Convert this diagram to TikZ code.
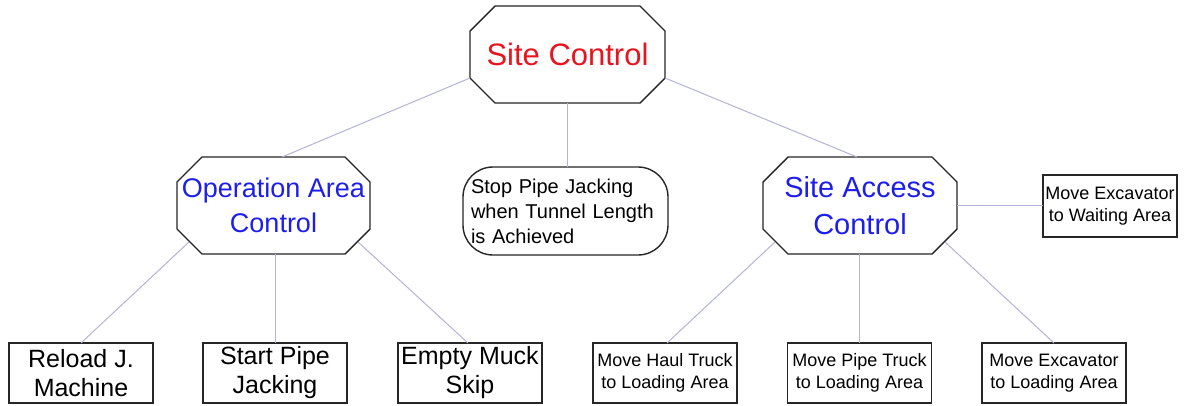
\documentclass[tikz,border=0pt]{standalone}
\usepackage{fontspec}
\setmainfont{Liberation Sans}
\usetikzlibrary{calc}
\definecolor{conncol}{RGB}{180,180,212}
\definecolor{sitered}{RGB}{232,20,30}
\definecolor{ctrlblue}{RGB}{30,30,235}
\newcommand\octpath[2]{\draw[octline] ([xshift=#2]#1.north west) -- ([xshift=-#2]#1.north east) -- ([yshift=-#2]#1.north east) -- ([yshift=#2]#1.south east) -- ([xshift=-#2]#1.south east) -- ([xshift=#2]#1.south west) -- ([yshift=#2]#1.south west) -- ([yshift=-#2]#1.north west) -- cycle;}
\tikzset{
  octline/.style={draw=black!85, line width=1.4pt, line join=miter},
  octnode/.style={shape=rectangle, inner sep=0pt, outer sep=0pt, align=center, minimum width=#1, minimum height=97pt},
  conn/.style={draw=conncol, line width=1pt},
  bigbox/.style={draw=black!85, line width=1.4pt, inner sep=1pt, outer sep=0pt, minimum width=144pt, minimum height=60pt, align=center,
    font=\fontsize{25}{29}\selectfont},
  smallbox/.style={draw=black!85, line width=1.4pt, inner sep=1pt, outer sep=0pt, minimum width=144pt, minimum height=60pt, align=center,
    font=\fontsize{18}{22}\selectfont},
  roundbox/.style={draw=black!85, line width=1.4pt, rounded corners=30pt, inner sep=8pt, outer sep=0pt, text width=189pt,
    minimum height=88pt, align=left, font=\fontsize{20}{25}\selectfont}
}
\begin{document}
\begin{tikzpicture}[x=1pt,y=-1pt]
\useasboundingbox[fill=white] (0,0) rectangle (1188,405);
% top
\node[octnode=195pt, text=sitered, font=\fontsize{31}{36}\selectfont] (sc) at (567.5,54.5) {Site Control};
\octpath{sc}{25pt}
% middle
\node[octnode=193pt, text=ctrlblue, font=\fontsize{27}{35}\selectfont] (op) at (273.5,205.5) {Operation Area\\Control};
\octpath{op}{25pt}
\node[roundbox] (stop) at (565.5,211) {Stop Pipe Jacking\\when Tunnel Length\\is Achieved};
\node[octnode=194pt, text=ctrlblue, font=\fontsize{29}{37}\selectfont] (sa) at (860,205.5) {Site Access\\Control};
\octpath{sa}{25pt}
\node[smallbox, minimum width=134pt, minimum height=62pt] (wait) at (1110,206) {Move Excavator\\to Waiting Area};
% bottom
\node[bigbox] (rl) at (81,373) {Reload J.\\Machine};
\node[bigbox] (sp) at (275,373) {Start Pipe\\Jacking};
\node[bigbox] (em) at (470,373) {Empty Muck\\Skip};
\node[smallbox] (ht) at (665,373) {Move Haul Truck\\to Loading Area};
\node[smallbox] (pt) at (859.5,373) {Move Pipe Truck\\to Loading Area};
\node[smallbox] (ex) at (1054,373) {Move Excavator\\to Loading Area};
% connectors
\draw[conn] ($(sc.west)+(0,23.5)$) -- ($(op.north)+(8.5,0)$);
\draw[conn] (sc.south) -- (sc.south |- stop.north);
\draw[conn] ($(sc.east)+(0,23.5)$) -- ($(sa.north)+(-3,0)$);
\draw[conn] ($(op.south west)+(12,-12)$) -- (rl.north);
\draw[conn] (sp.north |- op.south) -- (sp.north);
\draw[conn] ($(op.south east)+(-12,-12)$) -- ($(em.north)+(-2,0)$);
\draw[conn] ($(sa.south west)+(12,-12)$) -- ($(ht.north)+(2,0)$);
\draw[conn] (pt.north |- sa.south) -- (pt.north);
\draw[conn] ($(sa.south east)+(-12,-12)$) -- (ex.north);
\draw[conn] (sa.east) -- (sa.east -| wait.west);
\end{tikzpicture}
\end{document}
